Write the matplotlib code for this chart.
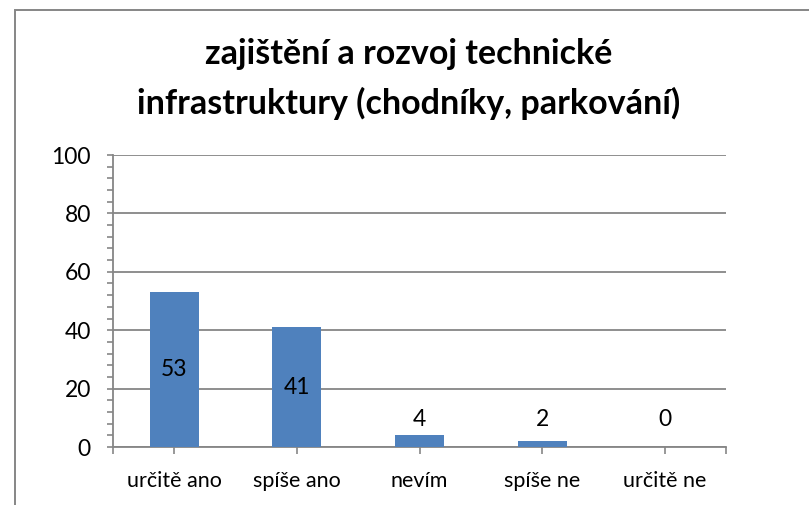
import matplotlib
matplotlib.use('Agg')
import matplotlib.pyplot as plt
from matplotlib.patches import Rectangle
from matplotlib.ticker import MultipleLocator, FixedLocator

categories = ['určitě ano', 'spíše ano', 'nevím', 'spíše ne', 'určitě ne']
values = [53, 41, 4, 2, 0]
title = 'zajištění a rozvoj technické\ninfrastruktury (chodníky, parkování)'

bar_color = '#4F81BD'
line_gray = '#868686'
font = 'Lato'

fig = plt.figure(figsize=(8.09, 5.05), dpi=100)
fig.patches.append(Rectangle((15 / 809, -0.1), 1.2, 1.1 - 10 / 505 + 0.0,
                             transform=fig.transFigure, fill=False,
                             edgecolor=line_gray, linewidth=1.4))

ax = fig.add_axes([113 / 809, 1 - 447 / 505, (726 - 113) / 809, (447 - 155) / 505])
x = list(range(len(categories)))
ax.bar(x, values, width=0.4, color=bar_color, zorder=3)

ax.set_xlim(-0.5, len(categories) - 0.5)
ax.set_ylim(0, 100)
ax.yaxis.set_major_locator(MultipleLocator(20))
ax.yaxis.set_minor_locator(MultipleLocator(4))
ax.grid(axis='y', which='major', color=line_gray, linewidth=1.3, zorder=0)

ax.xaxis.set_major_locator(FixedLocator(x))
ax.xaxis.set_minor_locator(FixedLocator([-0.5, len(categories) - 0.5]))
ax.set_xticklabels(categories)

for s in ['top', 'right']:
    ax.spines[s].set_visible(False)
for s in ['left', 'bottom']:
    ax.spines[s].set_color(line_gray)
    ax.spines[s].set_linewidth(1.3)

ax.tick_params(axis='y', which='both', length=4, width=1.2, color=line_gray,
               labelsize=16.5, pad=12)
ax.tick_params(axis='x', which='both', length=5, width=1.2, color=line_gray,
               labelsize=15.5, pad=12)
for lab in ax.get_xticklabels() + ax.get_yticklabels():
    lab.set_fontfamily(font)

for xi, v in zip(x, values):
    ypos = max(v / 2, 9.3)
    ax.text(xi, ypos, str(v), ha='center', va='center', fontsize=16.5,
            family=font, zorder=4)

fig.text(409 / 809, 1 - 79 / 505, title, ha='center', va='center',
         fontsize=24.5, fontweight='bold', family=font, linespacing=1.62)

fig.savefig('out.png', dpi=100)
